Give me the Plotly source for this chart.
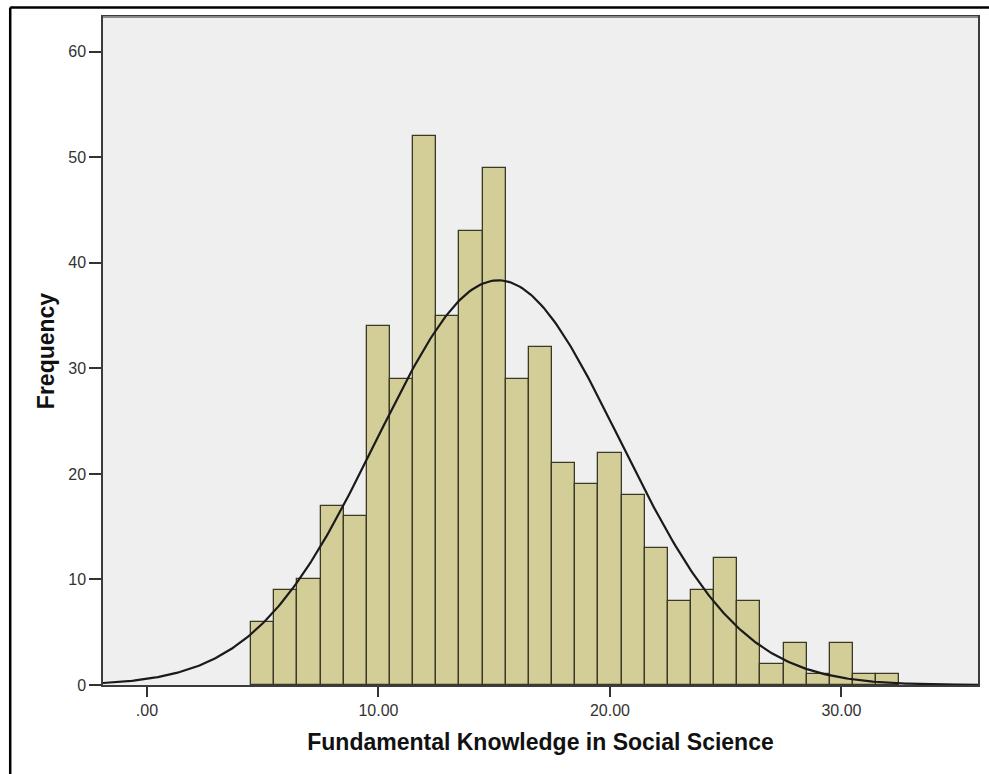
import numpy as np
import plotly.graph_objects as go

# Histogram bins (width 1) centred on whole scores, and their frequencies
bin_centers = list(range(5, 33))
frequencies = [6, 9, 10, 17, 16, 34, 29, 52, 35, 43, 49, 29, 32, 21, 19,
               22, 18, 13, 8, 9, 12, 8, 2, 4, 1, 4, 1, 1]
x_tick_values = [0, 10, 20, 30]
x_tick_labels = [".00", "10.00", "20.00", "30.00"]
y_tick_values = [0, 10, 20, 30, 40, 50, 60]

x_range = [-1.9, 35.9]
y_range = [0, 63.3]
bin_width = 1.0

# Normal curve scaled to the histogram (mean / sd of the binned scores)
centers = np.array(bin_centers, dtype=float)
counts = np.array(frequencies, dtype=float)
n_total = counts.sum()
mean = (centers * counts).sum() / n_total
sd = np.sqrt(((centers - mean) ** 2 * counts).sum() / (n_total - 1))
xs = np.linspace(x_range[0], x_range[1], 400)
ys = n_total * bin_width / (sd * np.sqrt(2 * np.pi)) * np.exp(-0.5 * ((xs - mean) / sd) ** 2)

fig = go.Figure()
fig.add_trace(go.Bar(
    x=bin_centers, y=frequencies, width=bin_width,
    marker=dict(color="#d3ce97", line=dict(color="#3a3826", width=1.3)),
    hoverinfo="x+y", showlegend=False,
))
fig.add_trace(go.Scatter(
    x=xs, y=ys, mode="lines", line=dict(color="#1a1a1a", width=2.2),
    hoverinfo="skip", showlegend=False,
))

W, H = 989, 774
L, R, T, B = 103, 9, 17, 89
pw, ph = W - L - R, H - T - B

def px_to_paper_x(px):
    return (px - L) / pw

def px_to_paper_y(py):
    return (H - B - py) / ph

tick_font = dict(family="Liberation Sans", size=16, color="#333333")
title_font = dict(family="Liberation Sans", size=23, color="#111111")

fig.update_layout(
    width=W, height=H,
    margin=dict(l=L, r=R, t=T, b=B),
    paper_bgcolor="white",
    plot_bgcolor="#efefef",
    bargap=0,
    xaxis=dict(
        range=x_range, tickvals=x_tick_values, ticktext=x_tick_labels,
        ticks="outside", ticklen=10, tickwidth=2, tickcolor="#333333",
        showgrid=False, zeroline=False,
        showline=True, linecolor="#3c3c3c", linewidth=1.5, mirror=True,
        tickfont=tick_font,
        title=dict(text="<b>Fundamental Knowledge in Social Science</b>",
                   font=title_font, standoff=16),
    ),
    yaxis=dict(
        range=y_range, tickvals=y_tick_values,
        ticks="outside", ticklen=12, tickwidth=2, tickcolor="#333333",
        showgrid=False, zeroline=False,
        showline=True, linecolor="#3c3c3c", linewidth=1.5, mirror=True,
        tickfont=tick_font,
        title=dict(text="<b>Frequency</b>", font=title_font, standoff=7),
    ),
    shapes=[
        # outer frame around the whole chart
        dict(type="line", xref="paper", yref="paper",
             x0=px_to_paper_x(10), x1=px_to_paper_x(1000),
             y0=px_to_paper_y(7.5), y1=px_to_paper_y(7.5),
             line=dict(color="black", width=2.5)),
        dict(type="line", xref="paper", yref="paper",
             x0=px_to_paper_x(10), x1=px_to_paper_x(10),
             y0=px_to_paper_y(7.5), y1=px_to_paper_y(790),
             line=dict(color="black", width=2.5)),
        # lighter top edge of the plotting area
        dict(type="line", xref="paper", yref="paper",
             x0=0, x1=1, y0=1, y1=1,
             line=dict(color="#8a8a8a", width=2)),
    ],
)

fig.write_html("out.html")
